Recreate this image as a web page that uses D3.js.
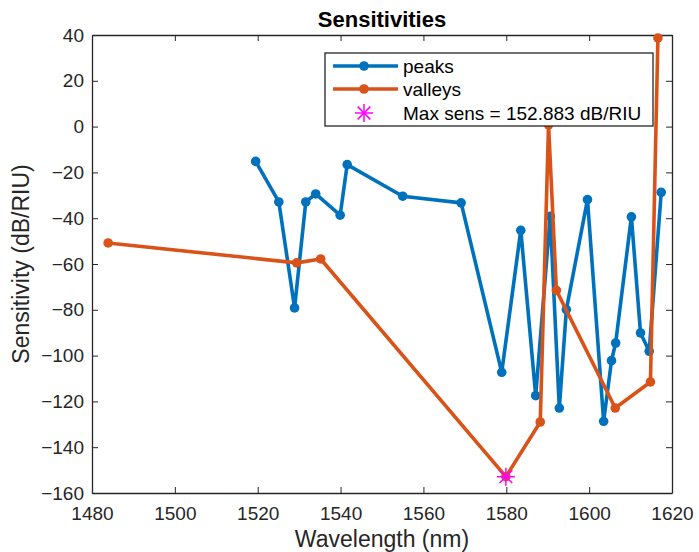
<!DOCTYPE html>
<html><head><meta charset="utf-8">
<script src="https://cdn.jsdelivr.net/npm/d3@7"></script>
<style>body{margin:0;background:#fff}svg{display:block}text{font-family:"Liberation Sans",Arial,sans-serif}</style>
</head><body>
<script>
const peakWl = [1519.5,1525.1,1528.9,1531.6,1534.0,1539.9,1541.6,1555.0,1569.1,1578.9,1583.5,1587.1,1590.6,1592.8,1594.5,1599.6,1603.5,1605.4,1606.4,1610.2,1612.4,1614.5,1617.4];
const peakSens = [-15.2,-32.9,-79.2,-32.9,-29.4,-38.7,-16.6,-30.4,-33.3,-107.3,-45.3,-117.5,-39.2,-122.9,-79.9,-31.9,-128.7,-102.2,-94.5,-39.4,-90.1,-98.1,-28.7];
const valleyWl = [1483.9,1529.4,1535.2,1579.9,1588.2,1590.2,1592.1,1606.3,1614.8,1616.6];
const valleySens = [-50.8,-59.5,-57.8,-152.883,-129.0,0.8,-71.5,-122.9,-111.5,38.7];
const maxWl = [1579.9];
const maxSens = [-152.883];
const xTicks = [1480,1500,1520,1540,1560,1580,1600,1620];
const yTicks = [40,20,0,-20,-40,-60,-80,-100,-120,-140,-160];
const legendLabels = ["peaks","valleys","Max sens = 152.883 dB/RIU"];

const W=699,H=552;
const L=92,R=672,T=35,B=493;
const blue="#0072BD",orange="#D95319",mag="#FF00FF",axc="#262626";
const svg=d3.select("body").append("svg").attr("width",W).attr("height",H);
const x=d3.scaleLinear().domain([1480,1620]).range([L,R]);
const y=d3.scaleLinear().domain([-160,40]).range([B,T]);
const fmt=d=>d<0?"\u2212"+Math.abs(d):String(d);

// axes (ticks inward)
const tl=6;
svg.append("g").attr("transform",`translate(0,${B})`)
  .call(d3.axisBottom(x).tickValues(xTicks).tickSizeInner(-tl).tickSizeOuter(0).tickPadding(14).tickFormat(fmt));
svg.append("g").attr("transform",`translate(${L},0)`)
  .call(d3.axisLeft(y).tickValues(yTicks).tickSizeInner(-tl).tickSizeOuter(0).tickPadding(8).tickFormat(fmt));
svg.append("g").attr("transform",`translate(0,${T})`)
  .call(d3.axisTop(x).tickValues(xTicks).tickSizeInner(-tl).tickSizeOuter(0).tickFormat(""));
svg.append("g").attr("transform",`translate(${R},0)`)
  .call(d3.axisRight(y).tickValues(yTicks).tickSizeInner(-tl).tickSizeOuter(0).tickFormat(""));
svg.selectAll(".domain").attr("stroke",axc).attr("stroke-width",1.3);
svg.selectAll(".tick line").attr("stroke",axc);
svg.selectAll(".tick text").attr("fill",axc).style("font-size","19px").style("font-family","'Liberation Sans',Arial,sans-serif");

const plot=svg.append("g");
const line=d3.line().x(d=>x(d[0])).y(d=>y(d[1]));
function series(wl,v,col){
  const pts=wl.map((w,i)=>[w,v[i]]);
  plot.append("path").datum(pts).attr("d",line).attr("fill","none").attr("stroke",col).attr("stroke-width",3.6).attr("stroke-linejoin","round");
  plot.selectAll(null).data(pts).enter().append("circle").attr("cx",d=>x(d[0])).attr("cy",d=>y(d[1])).attr("r",4.8).attr("fill",col);
}
series(peakWl,peakSens,blue);
series(valleyWl,valleySens,orange);

function star(g,cx,cy,r,col){
  for(let k=0;k<4;k++){
    const a=k*Math.PI/4;
    g.append("line").attr("x1",cx-r*Math.cos(a)).attr("y1",cy-r*Math.sin(a))
     .attr("x2",cx+r*Math.cos(a)).attr("y2",cy+r*Math.sin(a)).attr("stroke",col).attr("stroke-width",1.5);
  }
}
maxWl.forEach((w,i)=>star(plot,x(w),y(maxSens[i]),9,mag));

// legend
const lg=svg.append("g");
lg.append("rect").attr("x",325).attr("y",53).attr("width",328).attr("height",73).attr("fill","#fff").attr("stroke",axc).attr("stroke-width",1.3);
const ly=[66,89,113];
[blue,orange].forEach((c,i)=>{
  lg.append("line").attr("x1",333).attr("x2",398).attr("y1",ly[i]).attr("y2",ly[i]).attr("stroke",c).attr("stroke-width",3.6);
  lg.append("circle").attr("cx",364).attr("cy",ly[i]).attr("r",4.8).attr("fill",c);
});
star(lg,364,ly[2],9,mag);
legendLabels.forEach((t,i)=>lg.append("text").attr("x",403).attr("y",ly[i]+6.8).attr("fill","#000").style("font-size","19px").text(t));

// title and labels
svg.append("text").attr("x",(L+R)/2).attr("y",27).attr("text-anchor","middle").style("font-size","22px").style("font-weight","bold").attr("fill","#000").text("Sensitivities");
svg.append("text").attr("x",(L+R)/2).attr("y",547).attr("text-anchor","middle").style("font-size","23px").attr("fill",axc).text("Wavelength (nm)");
svg.append("text").attr("transform",`translate(29,${(T+B)/2}) rotate(-90)`).attr("text-anchor","middle").style("font-size","23px").attr("fill",axc).text("Sensitivity (dB/RIU)");
</script>
</body></html>
